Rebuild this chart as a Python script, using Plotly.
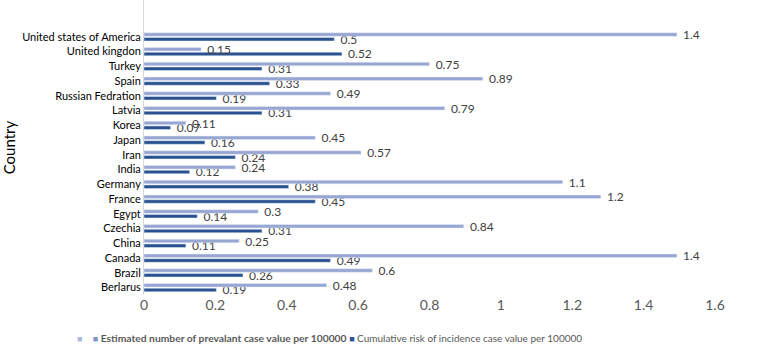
import plotly.graph_objects as go

countries = ["Berlarus", "Brazil", "Canada", "China", "Czechia", "Egypt", "France",
             "Germany", "India", "Iran", "Japan", "Korea", "Latvia", "Russian Fedration",
             "Spain", "Turkey", "United kingdon", "United states of America"]
prevalent = [0.48, 0.6, 1.4, 0.25, 0.84, 0.3, 1.2, 1.1, 0.24, 0.57, 0.45, 0.11, 0.79, 0.49,
             0.89, 0.75, 0.15, 1.4]
cumulative = [0.19, 0.26, 0.49, 0.11, 0.31, 0.14, 0.45, 0.38, 0.12, 0.24, 0.16, 0.07, 0.31, 0.19,
              0.33, 0.31, 0.52, 0.5]
x_ticks = [0, 0.2, 0.4, 0.6, 0.8, 1, 1.2, 1.4, 1.6]
name_prev = "Estimated number of prevalant case value per 100000"
name_cum = "Cumulative risk of incidence case value per 100000"

LIGHT = "#97a6d2"
DARK = "#2a5190"
LEG1 = "#aab6dc"
LEG2 = "#7f93ca"
FONT = "Lato"
NB = "\u00a0\u00a0"
SP = "\u00a0"

fig = go.Figure()
fig.add_trace(go.Bar(
    y=countries, x=cumulative, orientation="h", name=name_cum, marker_color=DARK,
    text=[NB + str(v) for v in cumulative], textposition="outside", cliponaxis=False,
    constraintext="none", textfont=dict(size=12, color="#404040", family=FONT),
    showlegend=False))
fig.add_trace(go.Bar(
    y=countries, x=prevalent, orientation="h", name=name_prev, marker_color=LIGHT,
    text=[NB + str(v) for v in prevalent], textposition="outside", cliponaxis=False,
    constraintext="none", textfont=dict(size=12, color="#404040", family=FONT),
    showlegend=False))
# empty trace so the tick-label axis (as printed in the original) is drawn
fig.add_trace(go.Scatter(x=[None], y=[None], xaxis="x2", mode="markers",
                         showlegend=False, hoverinfo="skip"))

legend_text = (
    f'<span style="color:{LEG1};font-size:9px">■</span>{SP * 4}'
    f'<span style="color:{LEG2};font-size:9px">■</span>{SP}'
    f'<span style="font-size:10.3px"><b>{name_prev}</b></span>{SP}'
    f'<span style="color:{DARK};font-size:9px">■</span>{SP}'
    f'{name_cum}'
)
fig.add_annotation(text=legend_text, xref="paper", yref="paper",
                   x=(75 - 144) / 571, y=-(338 - 295) / 295, xanchor="left", yanchor="middle",
                   showarrow=False, font=dict(size=10, color="#595959", family=FONT))

fig.update_layout(
    width=762, height=344,
    margin=dict(l=144, r=47, t=0, b=49, autoexpand=False),
    paper_bgcolor="white", plot_bgcolor="white",
    barmode="group", bargap=0.36, bargroupgap=0.25,
    font=dict(family=FONT, color="#595959"),
    showlegend=False,
    xaxis=dict(range=[0, 1.5], showticklabels=False,
               showgrid=False, zeroline=False, showline=False, automargin=False, ticks=""),
    xaxis2=dict(range=[0, 1.6], overlaying="x", side="bottom", anchor="y",
                tickvals=x_ticks, ticktext=[str(t) for t in x_ticks],
                showgrid=False, zeroline=False, showline=False, automargin=False,
                tickfont=dict(size=14, color="#595959"), ticks="", ticklen=0),
    yaxis=dict(range=[-0.5, 19.5], showgrid=False, zeroline=False, automargin=False,
               showline=True, linecolor="#d9d9d9", linewidth=1,
               tickfont=dict(size=11, color="#000000"), ticks="",
               title=dict(text="Country", font=dict(size=15, color="#000000"))),
)

fig.write_html("out.html", config={"displayModeBar": False},
               post_script="document.body.style.margin='0';")
